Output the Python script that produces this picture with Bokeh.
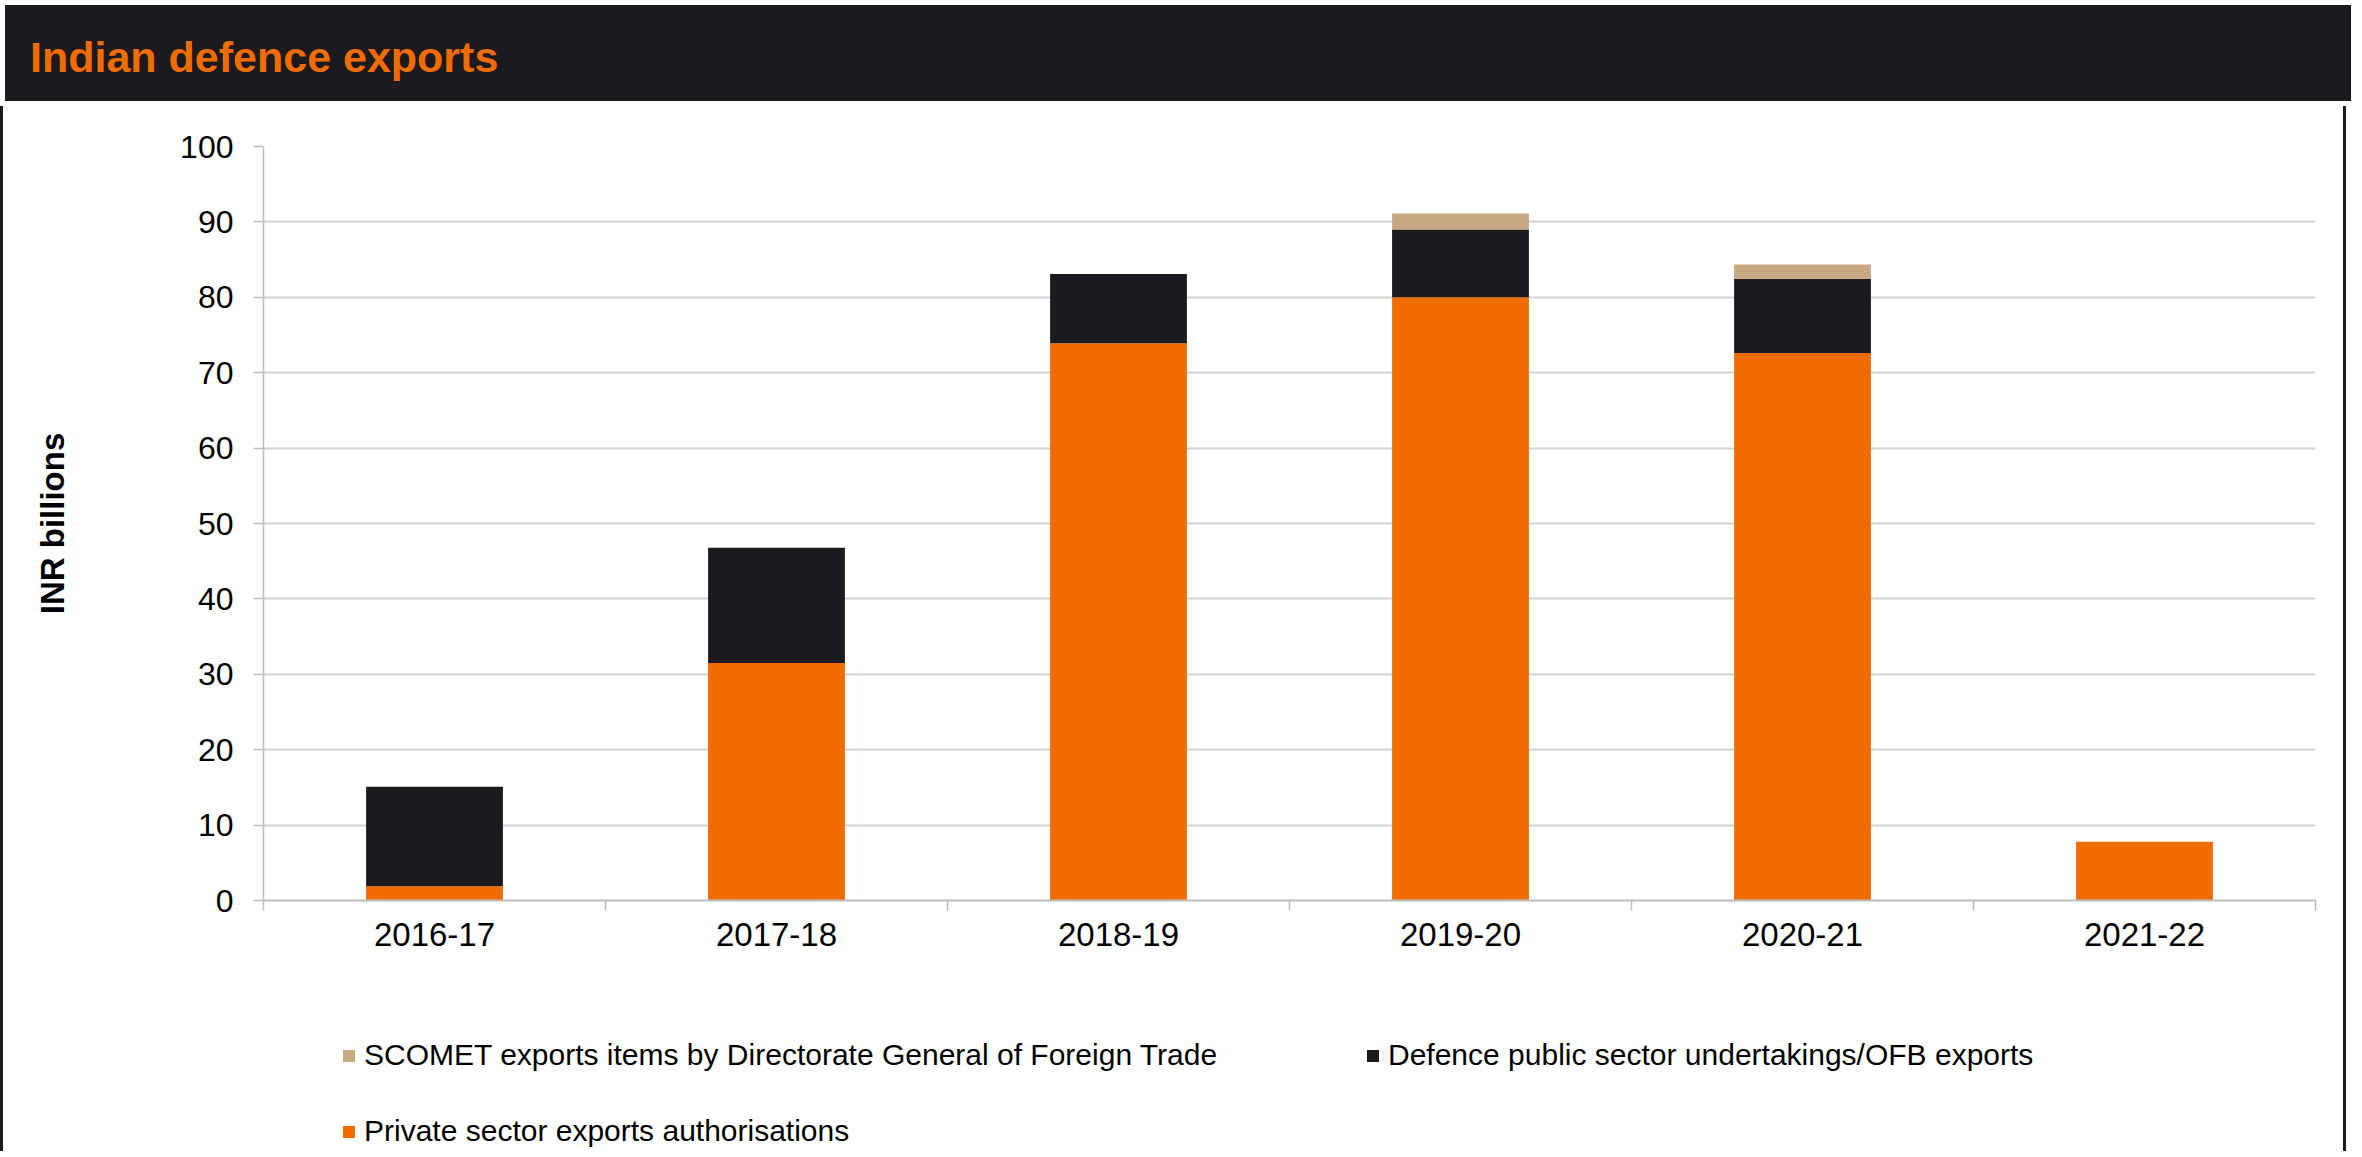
from bokeh.plotting import figure
from bokeh.models import (ColumnDataSource, Range1d, FixedTicker, Legend, LegendItem, Div)
from bokeh.layouts import column
from bokeh.embed import file_html
from bokeh.resources import INLINE

# ---- data ----
title_text = "Indian defence exports"
categories = ["2016-17", "2017-18", "2018-19", "2019-20", "2020-21", "2021-22"]
private = [1.9, 31.5, 73.9, 80.0, 72.6, 7.8]
dpsu = [13.2, 15.3, 9.2, 9.0, 9.85, 0.0]
scomet = [0.0, 0.0, 0.0, 2.1, 1.9, 0.0]
series_names = ["Private sector exports authorisations",
                "Defence public sector undertakings/OFB exports",
                "SCOMET exports items by Directorate General of Foreign Trade"]
y_label = "INR billions"
y_ticks = [0, 10, 20, 30, 40, 50, 60, 70, 80, 90, 100]

ORANGE = "#f06c00"
DARK = "#1b1b1f"
TAN = "#c8a882"
FONT = "Liberation Sans"
COLORS = [ORANGE, DARK, TAN]
STACK = ["private", "dpsu", "scomet"]

W = 2346
x_centers = [i + 0.5 for i in range(len(categories))]
boundaries = [float(i) for i in range(len(categories) + 1)]

src = ColumnDataSource(dict(x=x_centers, private=private, dpsu=dpsu, scomet=scomet))

side_styles = {"border-left": "3px solid " + DARK, "border-right": "3px solid " + DARK,
               "box-sizing": "border-box"}

p = figure(width=W, height=874, output_backend="svg", toolbar_location=None,
           x_range=Range1d(0, len(categories)), y_range=Range1d(0, 100),
           min_border_left=260, min_border_right=34, min_border_top=40,
           min_border_bottom=80, outline_line_color=None, styles=side_styles)

rs = p.vbar_stack(STACK, x="x", width=0.4, source=src, color=COLORS, line_color=None)

p.xgrid.grid_line_color = None
p.ygrid.grid_line_color = "#d2d2d2"
p.ygrid.grid_line_width = 2
p.ygrid.ticker = FixedTicker(ticks=y_ticks)

xa = p.xaxis[0]
xa.ticker = FixedTicker(ticks=x_centers, minor_ticks=boundaries)
xa.major_label_overrides = {c: lab for c, lab in zip(x_centers, categories)}
xa.major_tick_out = 0
xa.major_tick_in = 0
xa.minor_tick_out = 10
xa.minor_tick_in = 0
xa.minor_tick_line_color = "#bdbdbd"
xa.minor_tick_line_width = 1.5
xa.axis_line_color = "#bdbdbd"
xa.axis_line_width = 2
xa.major_label_text_font = FONT
xa.major_label_text_font_size = "33px"
xa.major_label_text_color = "#000000"
xa.major_label_standoff = 12

ya = p.yaxis[0]
ya.ticker = FixedTicker(ticks=y_ticks)
ya.major_tick_out = 10
ya.major_tick_in = 0
ya.minor_tick_line_color = None
ya.major_tick_line_color = "#bdbdbd"
ya.major_tick_line_width = 1.5
ya.axis_line_color = "#bdbdbd"
ya.axis_line_width = 1.5
ya.major_label_text_font = FONT
ya.major_label_text_font_size = "32px"
ya.major_label_text_color = "#000000"
ya.major_label_standoff = 20
ya.axis_label = y_label
ya.axis_label_text_font = FONT
ya.axis_label_text_font_size = "33px"
ya.axis_label_text_font_style = "bold"
ya.axis_label_text_color = "#000000"
ya.axis_label_standoff = 106

# ---- legend strip (separate figure below the chart; its bars lie outside its view) ----
p2 = figure(width=W, height=171, output_backend="svg", toolbar_location=None,
            x_range=Range1d(0, len(categories)), y_range=Range1d(1000, 1001),
            min_border_left=0, min_border_right=0, min_border_top=0, min_border_bottom=0,
            outline_line_color=None, styles=side_styles)
p2.axis.visible = False
p2.grid.visible = False
proxies = p2.vbar_stack(STACK, x="x", width=0.4, source=src, color=COLORS, line_color=None)

def mk_legend(label, renderer, loc):
    lg = Legend(items=[LegendItem(label=label, renderers=[renderer])], location=loc,
                orientation="horizontal", border_line_color=None, background_fill_alpha=0,
                padding=0, margin=0, spacing=0, glyph_width=15, glyph_height=15,
                label_standoff=8, label_text_font=FONT, label_text_font_size="30px",
                label_text_color="#000000", label_height=15)
    p2.add_layout(lg, "center")

mk_legend(series_names[2], proxies[2], (78, 79))
mk_legend(series_names[1], proxies[1], (1102, 79))
mk_legend(series_names[0], proxies[0], (78, 3))

header = Div(text=title_text, width=W, height=96,
             styles={"background-color": DARK, "color": ORANGE, "font-family": FONT,
                     "font-size": "43px", "font-weight": "bold", "padding-left": "25px",
                     "padding-top": "22px", "box-sizing": "border-box"})

layout = column(header, p, p2, spacing=0)
open("out.html", "w").write(file_html(layout, INLINE))
